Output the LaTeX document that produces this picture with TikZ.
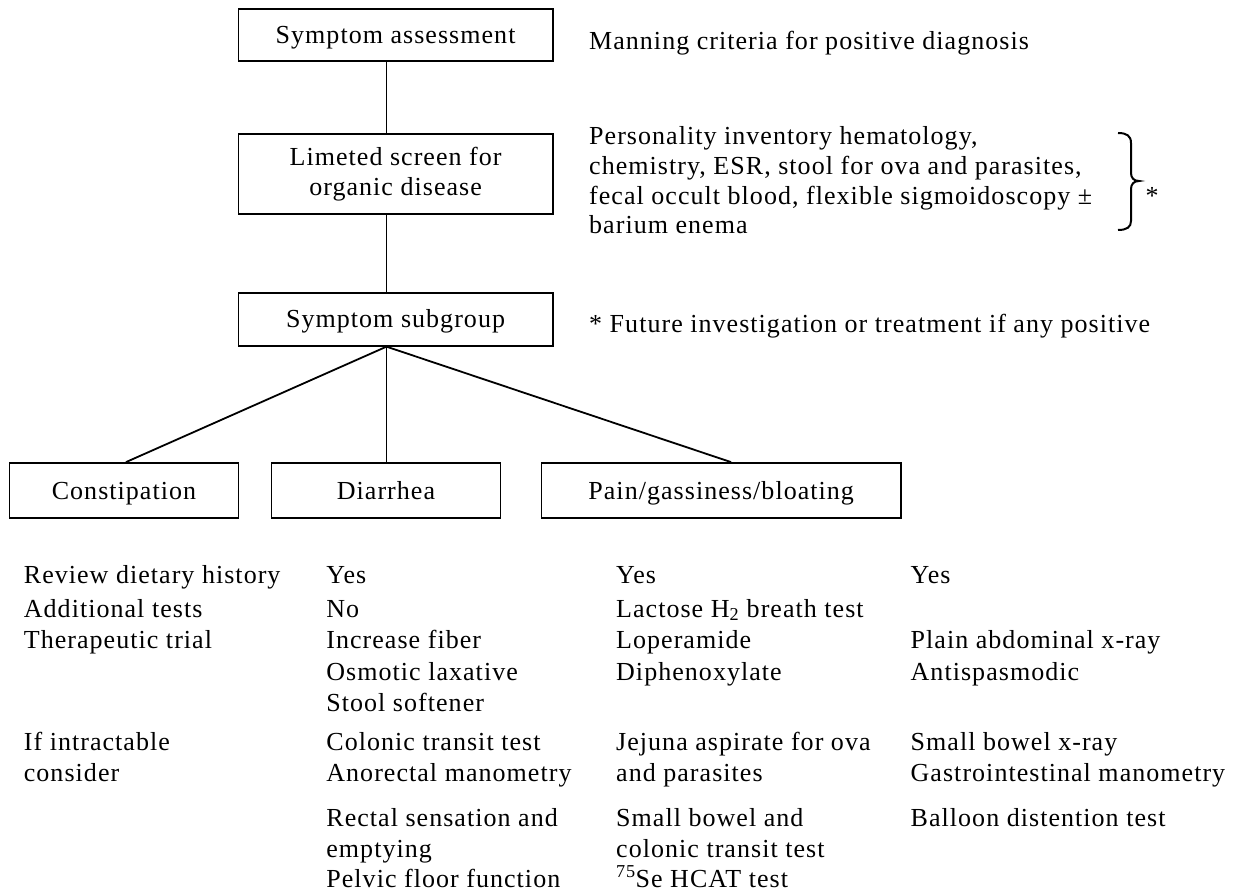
\documentclass[tikz,border=0pt]{standalone}
\usepackage{fontspec}
\setmainfont{Liberation Serif}[LetterSpace=4]
\newcommand\dfs{\fontsize{26}{30}\selectfont}
\begin{document}
\begin{tikzpicture}[x=1pt,y=-1pt,
  box/.style={draw,line width=1.8pt,inner sep=0pt,align=center,font=\dfs},
  onel/.style={text height=20pt,text depth=3pt},
  lbl/.style={anchor=base west,inner sep=0pt,font=\dfs},
  conn/.style={line width=1.8pt}]
\useasboundingbox (0,0) rectangle (1234,893);

% boxes
\node[box,onel,minimum width=314.3pt,minimum height=52pt] (assess) at (395.6,35) {Symptom assessment};
\node[box,minimum width=314.3pt,minimum height=80pt] (screen) at (395.6,174) {Limeted screen for\\organic disease};
\node[box,onel,minimum width=314.3pt,minimum height=52.7pt] (subgrp) at (395.6,319.4) {Symptom subgroup};
\node[box,onel,minimum width=229pt,minimum height=55pt] (const) at (124,490.5) {Constipation};
\node[box,onel,minimum width=229pt,minimum height=55pt] (diarr) at (386,490.5) {Diarrhea};
\node[box,onel,minimum width=359.6pt,minimum height=55pt] (pain) at (721.2,490.5) {Pain/gassiness/bloating};

% connectors
\coordinate (spine) at (386.5,0);
\coordinate (cx) at (126,0);
\coordinate (px) at (731,0);
\draw[conn] (assess.south -| spine) -- (screen.north -| spine);
\draw[conn] (screen.south -| spine) -- (subgrp.north -| spine);
\coordinate (fork) at (subgrp.south -| spine);
\draw[conn] (fork) -- (const.north -| cx);
\draw[conn] (fork) -- (diarr.north -| spine);
\draw[conn] (fork) -- (pain.north -| px);

% right-hand notes
\node[lbl] (manning) at (589,50) {Manning criteria for positive diagnosis};
\node[lbl] (r1) at (589,145) {Personality inventory hematology,};
\node[lbl] (r2) at (589,175) {chemistry, ESR, stool for ova and parasites,};
\node[lbl] (r3) at (589,205) {fecal occult blood, flexible sigmoidoscopy ±};
\node[lbl] (r4) at (589,234) {barium enema};
\draw[line width=2pt] (1118,133) .. controls (1127,133) and (1131,136) .. (1131,143) -- (1131,173)
  .. controls (1131,178) and (1134,181) .. (1139,181)
  .. controls (1134,181) and (1131,184) .. (1131,189) -- (1131,221)
  .. controls (1131,227) and (1127,230) .. (1118,230);
\node[inner sep=0pt,font=\dfs] (ast) at (1152,196) {*};
\node[lbl] (future) at (589,332) {* Future investigation or treatment if any positive};

% table
\node[lbl] (a1) at (23.7,583) {Review dietary history};
\node[lbl] (a2) at (23.7,617) {Additional tests};
\node[lbl] (a3) at (23.7,648) {Therapeutic trial};
\node[lbl] (a4) at (23.7,750) {If intractable};
\node[lbl] (a5) at (23.7,781) {consider};

\node[lbl] (b1) at (326.2,583) {Yes};
\node[lbl] (b2) at (326.2,617) {No};
\node[lbl] (b3) at (326.2,648) {Increase fiber};
\node[lbl] (b4) at (326.2,680) {Osmotic laxative};
\node[lbl] (b5) at (326.2,711) {Stool softener};
\node[lbl] (b6) at (326.2,750) {Colonic transit test};
\node[lbl] (b7) at (326.2,781) {Anorectal manometry};
\node[lbl] (b8) at (326.2,826) {Rectal sensation and};
\node[lbl] (b9) at (326.2,857) {emptying};
\node[lbl] (b10) at (326.2,887) {Pelvic floor function};

\node[lbl] (c1) at (616,583) {Yes};
\node[lbl] (c2) at (616,617) {Lactose H\textsubscript{2} breath test};
\node[lbl] (c3) at (616,648) {Loperamide};
\node[lbl] (c4) at (616,680) {Diphenoxylate};
\node[lbl] (c5) at (616,750) {Jejuna aspirate for ova};
\node[lbl] (c6) at (616,781) {and parasites};
\node[lbl] (c7) at (616,826) {Small bowel and};
\node[lbl] (c8) at (616,857) {colonic transit test};
\node[lbl] (c9) at (616,887) {\textsuperscript{75}Se HCAT test};

\node[lbl] (d1) at (910.5,583) {Yes};
\node[lbl] (d3) at (910.5,648) {Plain abdominal x-ray};
\node[lbl] (d4) at (910.5,680) {Antispasmodic};
\node[lbl] (d5) at (910.5,750) {Small bowel x-ray};
\node[lbl] (d6) at (910.5,781) {Gastrointestinal manometry};
\node[lbl] (d7) at (910.5,826) {Balloon distention test};
\end{tikzpicture}
\end{document}
